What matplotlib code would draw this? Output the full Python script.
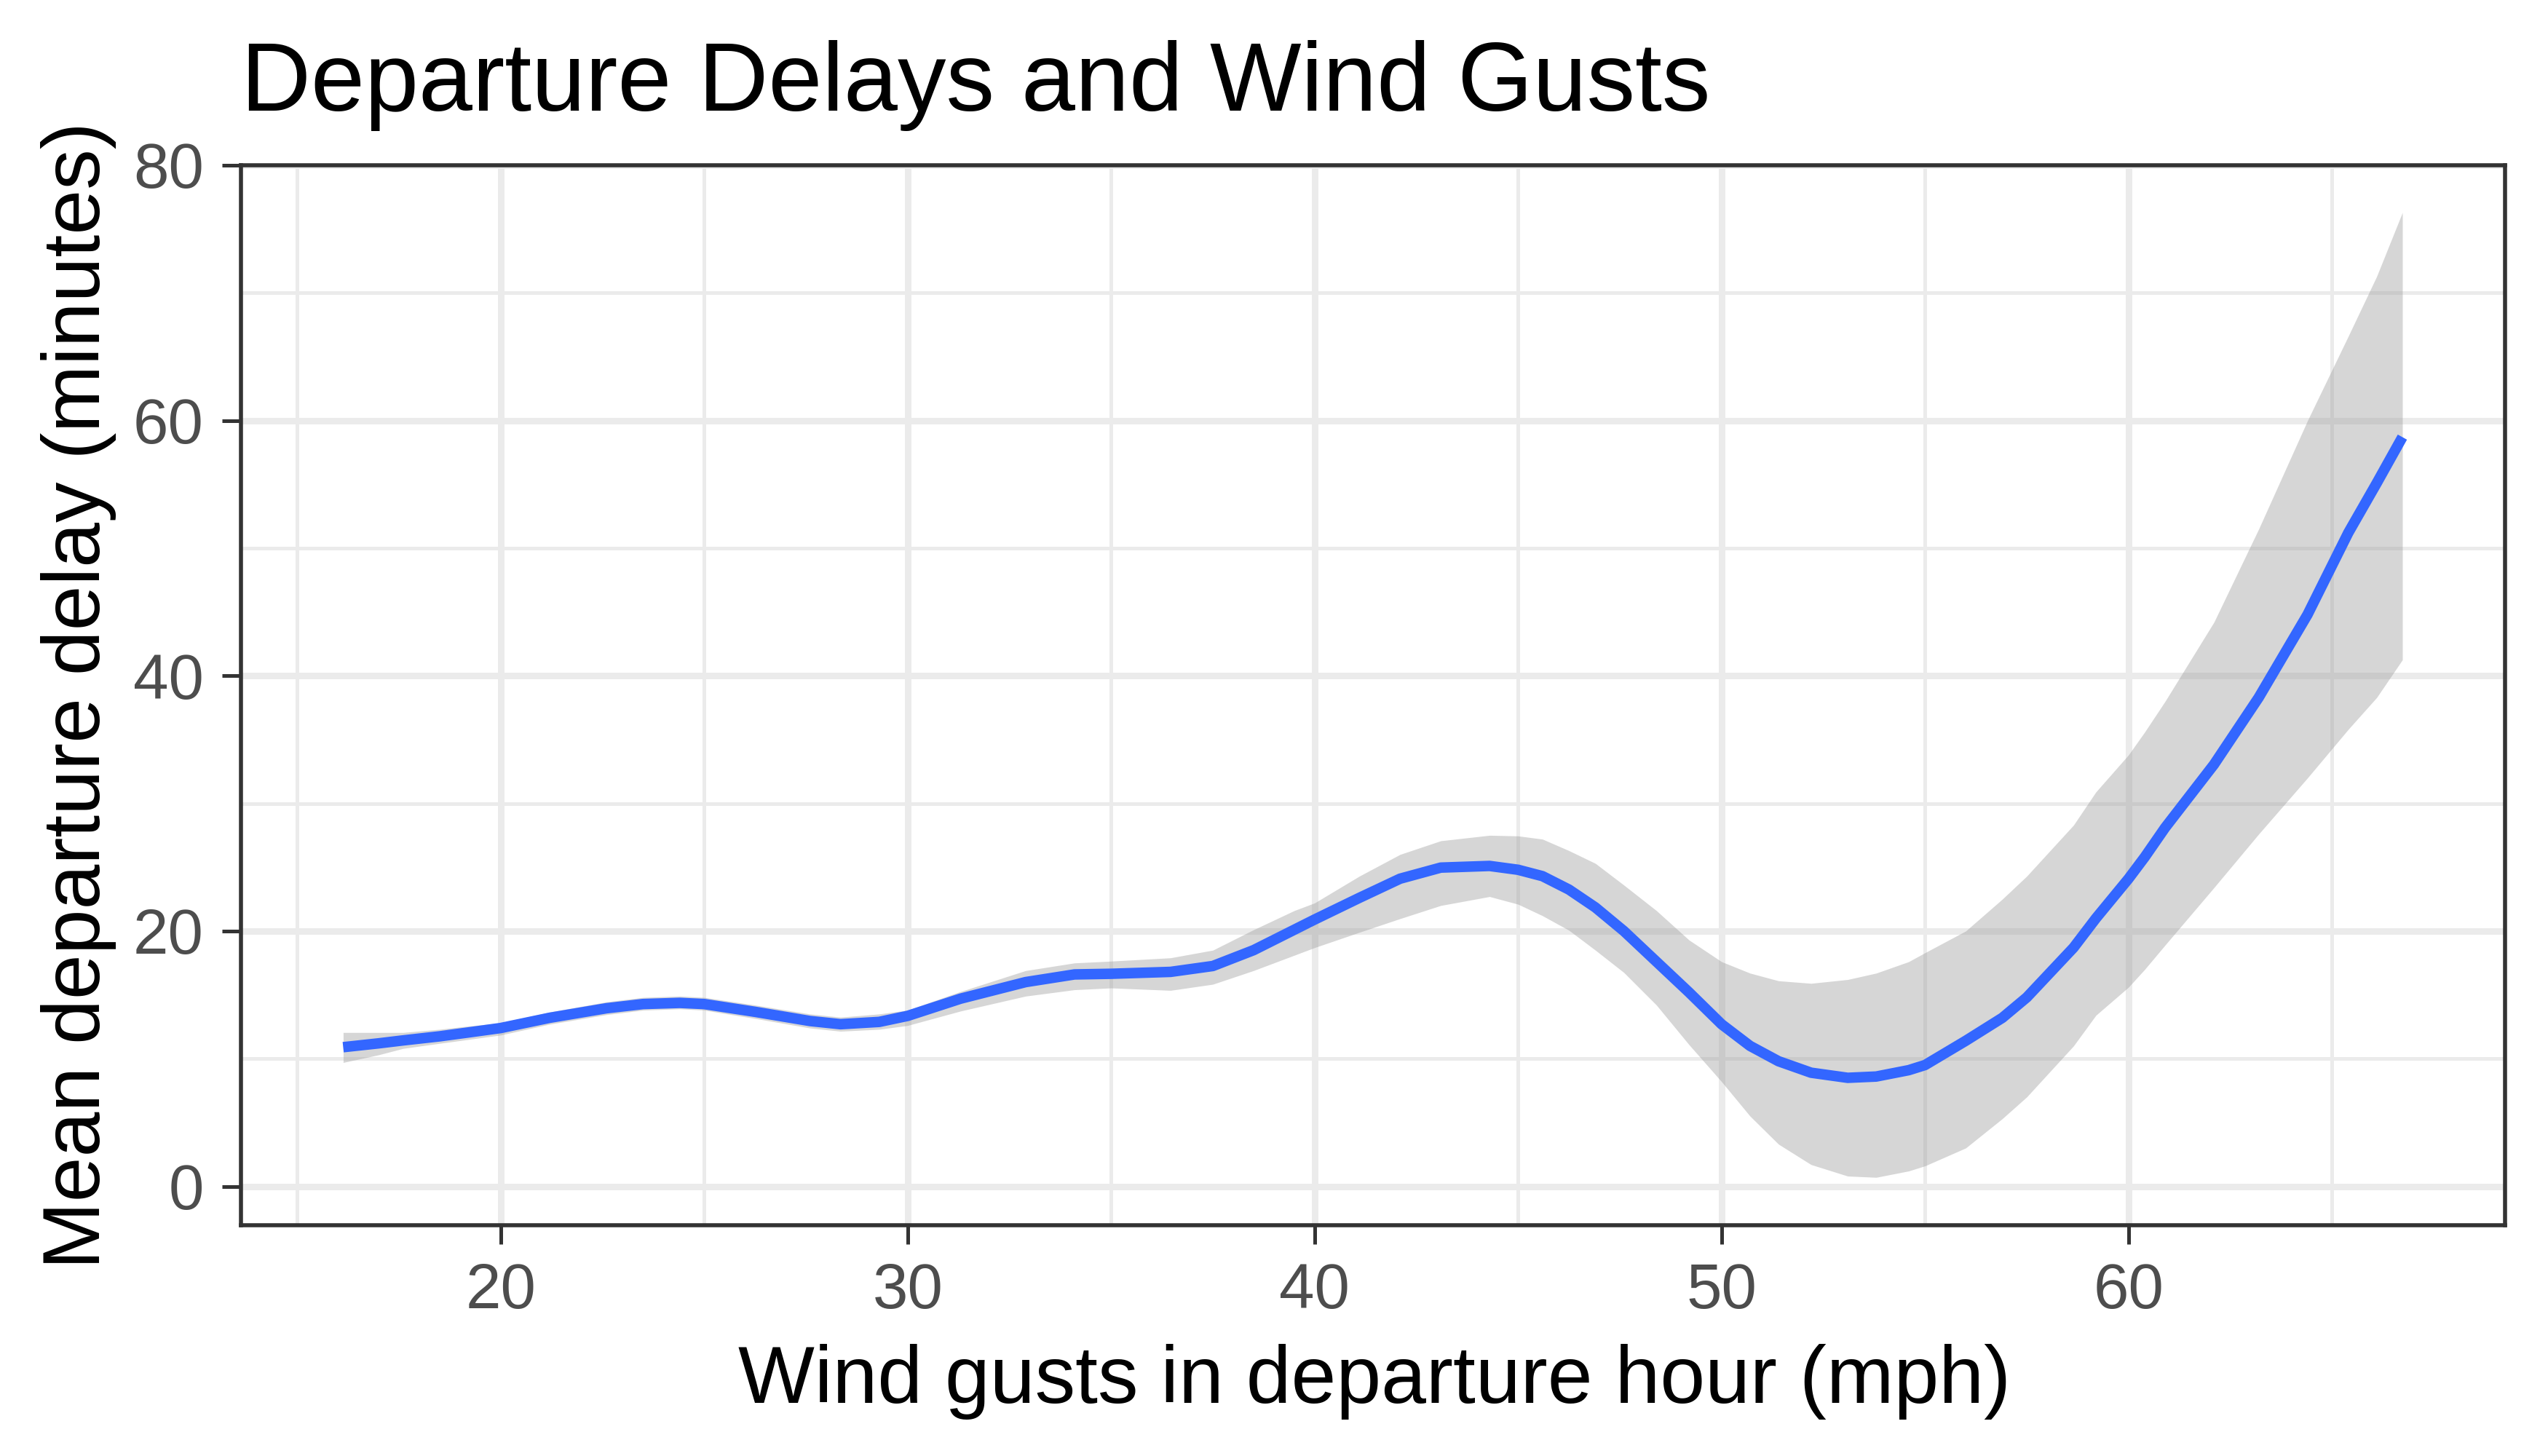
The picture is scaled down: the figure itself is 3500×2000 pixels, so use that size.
import matplotlib
matplotlib.use("Agg")
import matplotlib.pyplot as plt

plt.rcParams['font.family'] = ['Liberation Sans', 'DejaVu Sans']

# Wind gust (mph) positions
wind = [16.13, 17.0, 17.6, 18.5, 19.2, 20.0, 21.2, 22.6, 23.5, 24.4, 25.0, 26.25,
        27.6, 28.35, 29.3, 30.0, 31.3, 32.9, 34.1, 35.0, 36.46, 37.5, 38.5, 39.5,
        40.0, 41.1, 42.1, 43.1, 44.3, 45.0, 45.6, 46.25, 46.9, 47.6, 48.4, 49.2,
        50.0, 50.7, 51.4, 52.2, 53.1, 53.8, 54.6, 55.0, 56.0, 56.9, 57.5, 58.65,
        59.2, 60.0, 60.4, 60.9, 62.1, 63.2, 64.4, 65.4, 66.1, 66.73]
# Smoothed mean departure delay (minutes)
delay_fit = [10.9, 11.2, 11.43, 11.75, 12.05, 12.4, 13.2, 13.95, 14.28, 14.37, 14.28,
             13.67, 12.95, 12.7, 12.88, 13.35, 14.7, 16.0, 16.6, 16.65, 16.8, 17.26,
             18.5, 20.1, 20.9, 22.6, 24.1, 24.97, 25.1, 24.8, 24.3, 23.25, 21.85,
             20.0, 17.6, 15.2, 12.7, 11.0, 9.8, 8.9, 8.5, 8.6, 9.1, 9.5, 11.4, 13.2,
             14.8, 18.7, 21.0, 24.1, 25.8, 28.1, 33.05, 38.3, 44.8, 51.2, 55.1, 58.7]
# Confidence band
ci_low = [9.7, 10.3, 10.8, 11.2, 11.5, 11.85, 12.7, 13.45, 13.8, 13.9, 13.8, 13.15,
          12.4, 12.15, 12.3, 12.6, 13.73, 14.9, 15.4, 15.54, 15.35, 15.83, 16.9,
          18.1, 18.7, 19.9, 20.97, 22.0, 22.7, 22.1, 21.2, 20.06, 18.5, 16.75,
          14.2, 11.1, 8.2, 5.5, 3.3, 1.7, 0.8, 0.7, 1.2, 1.6, 3.0, 5.3, 7.0, 11.0,
          13.4, 15.6, 17.0, 18.9, 23.4, 27.6, 32.0, 35.8, 38.3, 41.25]
ci_high = [12.05, 12.05, 12.05, 12.3, 12.55, 12.8, 13.65, 14.45, 14.8, 14.9, 14.8,
           14.2, 13.5, 13.25, 13.5, 13.8, 15.26, 16.9, 17.5, 17.64, 17.9, 18.5,
           20.1, 21.6, 22.2, 24.3, 26.0, 27.07, 27.5, 27.45, 27.2, 26.3, 25.3,
           23.6, 21.6, 19.3, 17.6, 16.7, 16.1, 15.9, 16.2, 16.7, 17.6, 18.3, 20.0,
           22.5, 24.3, 28.3, 30.9, 33.8, 35.6, 38.0, 44.2, 51.5, 60.0, 66.6, 71.3,
           76.3]

x_major = [20, 30, 40, 50, 60]
x_minor = [15, 25, 35, 45, 55, 65]
y_major = [0, 20, 40, 60, 80]
y_minor = [10, 30, 50, 70]

title = "Departure Delays and Wind Gusts"
xlabel = "Wind gusts in departure hour (mph)"
ylabel = "Mean departure delay (minutes)"

fig = plt.figure(figsize=(17.5, 10), dpi=200)
ax = fig.add_axes([0.0946, 0.1585, 0.8885, 0.728])

ax.fill_between(wind, ci_low, ci_high, color='#999999', alpha=0.4, linewidth=0, zorder=2)
ax.plot(wind, delay_fit, color='#3366FF', lw=5.2, solid_capstyle='butt',
        solid_joinstyle='round', zorder=3)

ax.set_xlim(13.62, 69.25)
ax.set_ylim(-3.05, 79.95)
ax.set_xticks(x_major)
ax.set_xticks(x_minor, minor=True)
ax.set_yticks(y_major)
ax.set_yticks(y_minor, minor=True)
ax.set_axisbelow(True)
ax.grid(which='major', color='#EBEBEB', lw=3.24)
ax.grid(which='minor', color='#EBEBEB', lw=1.8)
ax.tick_params(which='minor', length=0)
ax.tick_params(which='major', length=9.4, width=1.8, color='#333333',
               labelsize=31.4, labelcolor='#4D4D4D', pad=9)
for s in ax.spines.values():
    s.set_color('#333333')
    s.set_linewidth(2)
    s.set_zorder(5)

fig.text(331 / 3500, 1 - 152 / 2000, title, fontsize=47.9, color='black',
         ha='left', va='baseline')
fig.text(1888 / 3500, 1 - 1927 / 2000, xlabel, fontsize=40.0, color='black',
         ha='center', va='baseline')
fig.text(137 / 3500, 1 - 955 / 2000, ylabel, fontsize=40.0, color='black',
         ha='center', va='baseline', rotation=90, rotation_mode='anchor')

fig.savefig('out.png', dpi=200)
